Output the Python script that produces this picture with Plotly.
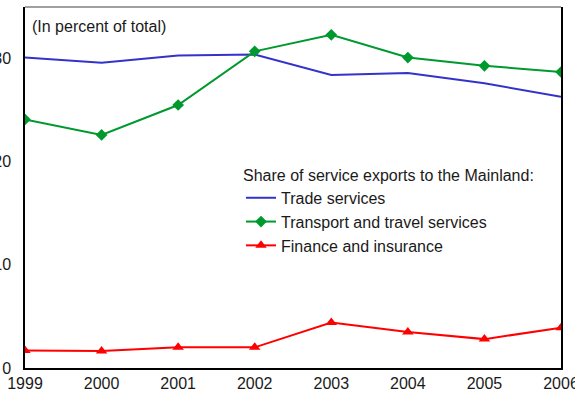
import plotly.graph_objects as go

years = [1999, 2000, 2001, 2002, 2003, 2004, 2005, 2006]
trade = [30.1, 29.6, 30.3, 30.4, 28.4, 28.6, 27.6, 26.3]
transport = [24.1, 22.6, 25.5, 30.7, 32.3, 30.1, 29.3, 28.7]
finance = [1.7, 1.65, 2.0, 2.0, 4.4, 3.5, 2.8, 3.9]

font = dict(family="Liberation Sans, Arial, sans-serif", size=16, color="#1a1a1a")


def main() -> None:
    fig = go.Figure()
    fig.add_scatter(x=years, y=trade, name="Trade services", mode="lines",
                    line=dict(color="#3333cc", width=2))
    fig.add_scatter(x=years, y=transport, name="Transport and travel services", mode="lines+markers",
                    line=dict(color="#00992e", width=2), marker=dict(symbol="diamond", size=9))
    fig.add_scatter(x=years, y=finance, name="Finance and insurance", mode="lines+markers",
                    line=dict(color="#ff0000", width=2), marker=dict(symbol="triangle-up", size=10))

    fig.update_layout(
        width=575, height=400,
        margin=dict(l=25, r=14, t=7, b=32),
        paper_bgcolor="white", plot_bgcolor="white",
        font=font,
        showlegend=True,
        legend=dict(
            x=0.403, y=0.576, xanchor="left", yanchor="top",
            bgcolor="rgba(0,0,0,0)",
            title=dict(text="Share of service exports to the Mainland:", font=font),
            itemwidth=30, tracegroupgap=0,
        ),
        annotations=[dict(text="(In percent of total)", xref="paper", yref="paper",
                          x=0.009, y=0.974, xanchor="left", yanchor="top", showarrow=False, font=font)],
        shapes=[dict(type="line", xref="paper", yref="paper", x0=0, x1=1, y0=1, y1=1,
                     line=dict(color="#808080", width=1.5))],
    )
    fig.update_xaxes(range=[1999, 2006], tickvals=years, showgrid=False, zeroline=False,
                     showline=True, linecolor="black", linewidth=1.5, ticks="", tickfont=font,
                     automargin=False, ticklabeloverflow="allow")
    fig.update_yaxes(range=[0, 35], tickvals=[0, 10, 20, 30], showgrid=False, zeroline=False,
                     showline=True, linecolor="black", linewidth=1.5, mirror=True, ticks="",
                     ticklabelstandoff=9, tickfont=font, automargin=False, ticklabeloverflow="allow")
    # page body has an 8px default margin; drop it so the figure sits at the window corner
    fig.write_html("out.html", config={"displayModeBar": False},
                   post_script="document.body.style.margin='0';")


if __name__ == '__main__':
    main()
